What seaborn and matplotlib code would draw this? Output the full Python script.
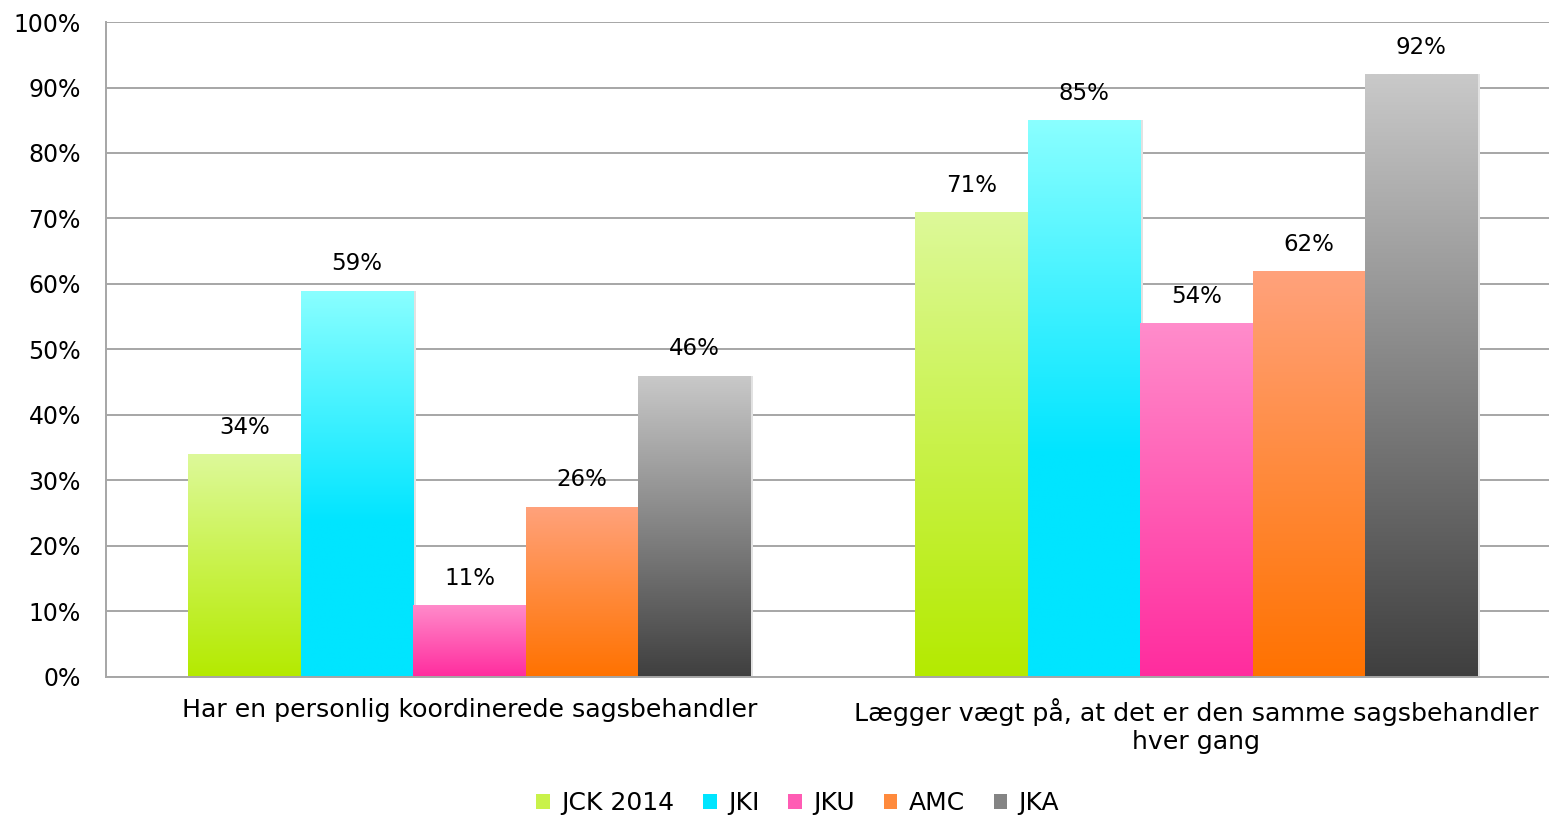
import numpy as np
import pandas as pd
import matplotlib.pyplot as plt
import matplotlib.colors as mcolors
import seaborn as sns

# data
categories = ["Har en personlig koordinerede sagsbehandler",
              "Lægger vægt på, at det er den samme sagsbehandler\nhver gang"]
series = ["JCK 2014", "JKI", "JKU", "AMC", "JKA"]
values = {
    "JCK 2014": [34, 71],
    "JKI": [59, 85],
    "JKU": [11, 54],
    "AMC": [26, 62],
    "JKA": [46, 92],
}
# gradient colours for each series (bottom, middle, top)
bottom_colors = ["#b4ea00", "#00e5ff", "#ff2c9e", "#ff7200", "#3f3f3f"]
middle_colors = ["#c9f24a", "#00e5ff", "#ff5cb4", "#ff8a3c", "#848484"]
top_colors = ["#ddf99a", "#8affff", "#ff8ccb", "#ffa27c", "#c9c9c9"]
mid_stops = [0.5, 0.4, 0.5, 0.5, 0.5]

rows = []
for s in series:
    for c, v in zip(categories, values[s]):
        rows.append({"category": c, "series": s, "value": v})
df = pd.DataFrame(rows)

sns.set_style("white")
plt.rcParams['font.family'] = ['DejaVu Sans']
plt.rcParams['text.color'] = 'black'
plt.rcParams['xtick.color'] = 'black'
plt.rcParams['ytick.color'] = 'black'

fig = plt.figure(figsize=(15.49, 8.18), dpi=100)
ax = fig.add_axes([0.0684, 0.1724, 0.9387, 0.8007])

sns.barplot(data=df, x="category", y="value", hue="series", hue_order=series,
            palette=middle_colors, width=0.773, saturation=1, ax=ax,
            legend=True, errorbar=None, linewidth=0)

ax.set_ylim(0, 100)
ax.set_xlim(-0.5, 1.5)
# replace the flat fills with vertical gradients, one per bar
for i, container in enumerate(ax.containers):
    cmap = mcolors.LinearSegmentedColormap.from_list(
        "g%d" % i, [(0, bottom_colors[i]), (mid_stops[i], middle_colors[i]),
                    (1, top_colors[i])])
    for bar in container:
        x0, y0 = bar.get_x(), bar.get_y()
        w, h = bar.get_width(), bar.get_height()
        grad = np.linspace(0, 1, 256).reshape(-1, 1)
        im = ax.imshow(grad, cmap=cmap, origin="lower", aspect="auto",
                       extent=(x0, x0 + w, y0, y0 + h), zorder=2)
        im.set_clip_path(bar)
        bar.set_facecolor("none")
        # faint shadow to the right
        ax.add_patch(plt.Rectangle((x0 + w, y0), 0.004, h, color="#e2e2e2",
                                   zorder=1.9, lw=0))
        ax.annotate("%d%%" % round(h), (x0 + w / 2, y0 + h), xytext=(0, 11),
                    textcoords="offset points", ha="center", va="bottom",
                    fontsize=16.5)
ax.set_xlim(-0.5, 1.5)
ax.set_ylim(0, 100)

ax.set_yticks(range(0, 101, 10))
ax.set_yticklabels(["%d%%" % t for t in range(0, 101, 10)], fontsize=17)
ax.yaxis.grid(True, color="#a6a6a6", lw=1.4)
ax.set_axisbelow(True)
ax.tick_params(axis="y", length=7, color="#a6a6a6", width=1.4, pad=11)
ax.set_xticks([0, 1])
ax.set_xticklabels(categories, fontsize=18.2, linespacing=1.25)
ax.tick_params(axis="x", length=0, pad=15)
ax.set_xticks([-0.5, 0.5, 1.5], minor=True)
ax.tick_params(axis="x", which="minor", length=7, color="#a6a6a6", width=1.4)
ax.set_xlabel("")
ax.set_ylabel("")
for side in ["top", "right"]:
    ax.spines[side].set_visible(False)
for side in ["left", "bottom"]:
    ax.spines[side].set_color("#a6a6a6")
    ax.spines[side].set_linewidth(1.4)

handles, labels = ax.get_legend_handles_labels()
ax.get_legend().remove()
fig.legend(handles, labels, loc="center", bbox_to_anchor=(0.515, 0.018),
           ncol=5, frameon=False, fontsize=18, handlelength=0.55,
           handleheight=0.55, handletextpad=0.45, columnspacing=1.15)

plt.savefig("out.png", dpi=100)
